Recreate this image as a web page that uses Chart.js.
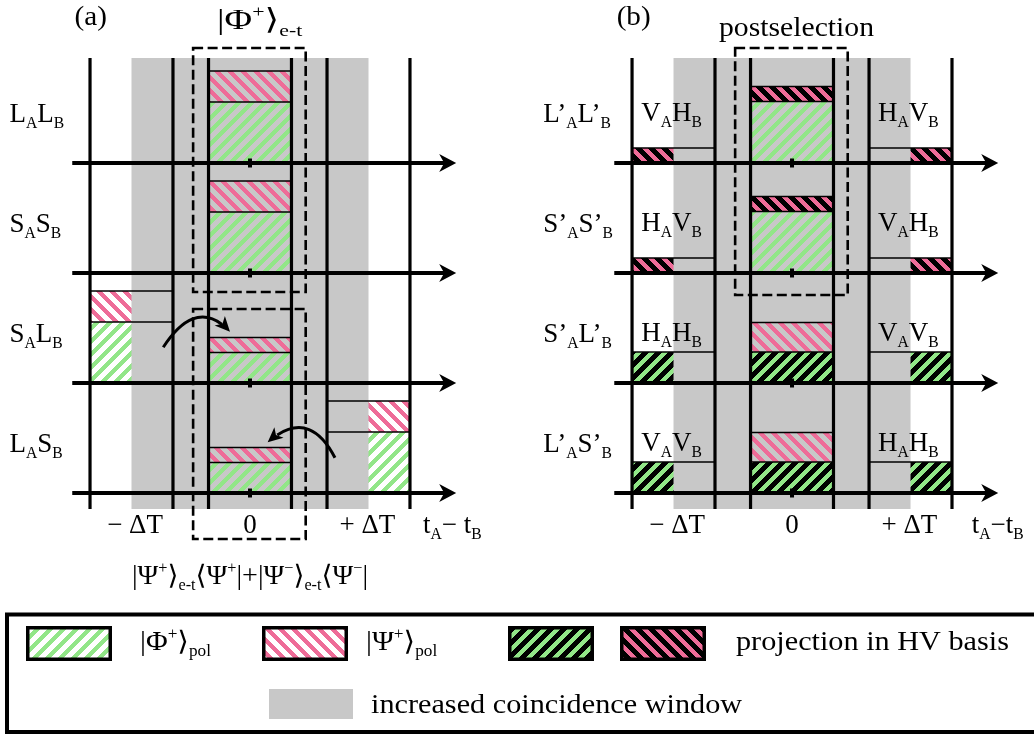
<!DOCTYPE html>
<html>
<head>
<meta charset="utf-8">
<script src="https://cdn.jsdelivr.net/npm/chart.js@4.4.1/dist/chart.umd.min.js"></script>
<style>
  body { margin: 0; background: #fff; overflow: hidden; }
  #box { position: relative; width: 1034px; height: 734px; }
</style>
</head>
<body>
<div id="box"><canvas id="figure"></canvas></div>
<script>
// time bins along t_A - t_B, in units of ΔT
const timeBins = [-1, 0, 1];
const binLabels = ['− ΔT', '0', '+ ΔT'];
const binLabelPos = [-0.97, 0, 0.99];

const rowLabelsA = ['L_{A}L_{B}', 'S_{A}S_{B}', 'S_{A}L_{B}', 'L_{A}S_{B}'];
const rowLabelsB = ['L’_{A}L’_{B}', 'S’_{A}S’_{B}', 'S’_{A}L’_{B}', 'L’_{A}S’_{B}'];
const hvLeftB = ['V_{A}H_{B}', 'H_{A}V_{B}', 'H_{A}H_{B}', 'V_{A}V_{B}'];
const hvRightB = ['H_{A}V_{B}', 'V_{A}H_{B}', 'V_{A}V_{B}', 'H_{A}H_{B}'];

// coincidence counts, rows top to bottom, columns = timeBins
const phiA = [[0, 6.1, 0], [0, 6.1, 0], [6.1, 3.05, 0], [0, 3.05, 6.1]];
const psiA = [[0, 3.1, 0], [0, 3.1, 0], [3.1, 1.5, 0], [0, 1.5, 3.1]];
const phiB = [[0, 6.15, 0], [0, 6.15, 0], [0, 0, 0], [0, 0, 0]];
const psiB = [[0, 0, 0], [0, 0, 0], [0, 2.95, 0], [0, 2.95, 0]];
const phiHVB = [[0, 0, 0], [0, 0, 0], [3.1, 3.1, 3.1], [3.1, 3.1, 3.1]];
const psiHVB = [[1.5, 1.5, 1.5], [1.5, 1.5, 1.5], [0, 0, 0], [0, 0, 0]];

// annotation boxes [x0, x1, y0, y1] and bent arrows [from, via, to]
const boxesA = [[-0.48, 0.47, 20.1, 44.5], [-0.48, 0.47, -4.6, 18.4]];
const boxesB = [[-0.48, 0.47, 19.8, 44.5]];
const arrowsA = [
  [[-0.732, 14.57], [-0.45, 17.53], [-0.169, 16.13]],
  [[0.717, 3.53], [0.464, 6.47], [0.149, 5.07]]
];

const FONT = "'Liberation Serif', 'Times New Roman', 'DejaVu Serif', serif";
const GREEN = '#92e688';
const PINK = '#ee6c98';
const GRAY = '#c8c8c8';
const ROW_STEP = 11;
const BIN_HALF = 0.35;
const WINDOW = [-1, 1];
const FRAME = [-1.6, 43.5];

const panels = [
  {
    offset: 0, tag: '(a)', rowLabels: rowLabelsA, rowLabelX: -2.03,
    stack: [{ kind: 'phi', data: phiA }, { kind: 'psi', data: psiA }],
    title: '|Φ^{+}⟩_{e-t}', titleAt: [-0.278, 46.4], titleAlign: 'left', titleSize: 29, titleSx: 1.3,
    axisLabel: 't_{A}− t_{B}', axisLabelX: 1.46,
    boxes: boxesA, arrows: arrowsA,
    footer: '|Ψ^{+}⟩_{e-t}⟨Ψ^{+}|+|Ψ^{−}⟩_{e-t}⟨Ψ^{−}|'
  },
  {
    offset: 4.574, tag: '(b)', rowLabels: rowLabelsB, rowLabelX: -2.1,
    stack: [{ kind: 'phiHV', data: phiHVB }, { kind: 'phi', data: phiB },
            { kind: 'psiHV', data: psiHVB }, { kind: 'psi', data: psiB }],
    title: 'postselection', titleAt: [0.038, 45.7], titleAlign: 'center', titleSize: 27, titleSx: 1.1,
    axisLabel: 't_{A}−t_{B}', axisLabelX: 1.516,
    hvLeft: hvLeftB, hvRight: hvRightB,
    boxes: boxesB, arrows: []
  }
];

// pixel-exact diagonal hatch tile
function hatch(ctx, color, bg, dir) {
  const P = 13, W = 6;
  const c = document.createElement('canvas');
  c.width = P; c.height = P;
  const g = c.getContext('2d');
  if (bg) { g.fillStyle = bg; g.fillRect(0, 0, P, P); }
  g.fillStyle = color;
  for (let x = 0; x < P; x++) {
    for (let y = 0; y < P; y++) {
      const k = dir === '/' ? (x + y) % P : ((x - y) % P + P) % P;
      if (k < W) g.fillRect(x, y, 1, 1);
    }
  }
  return ctx.createPattern(c, 'repeat');
}

function richText(ctx, str, x, y, size, align, sx) {
  const parts = [];
  const re = /([_^])\{([^}]*)\}/g;
  let last = 0, m;
  while ((m = re.exec(str))) {
    if (m.index > last) parts.push({ t: str.slice(last, m.index), k: 0 });
    parts.push({ t: m[2], k: m[1] === '_' ? 1 : -1 });
    last = re.lastIndex;
  }
  if (last < str.length) parts.push({ t: str.slice(last), k: 0 });
  let w = 0;
  parts.forEach(p => {
    p.size = p.k ? size * 0.58 : size;
    ctx.font = p.size + 'px ' + FONT;
    p.w = ctx.measureText(p.t).width;
    w += p.w;
  });
  ctx.save();
  ctx.translate(x, y);
  ctx.scale(sx || 1, 1);
  ctx.fillStyle = '#000';
  ctx.textBaseline = 'alphabetic';
  let cx = align === 'center' ? -w / 2 : 0;
  parts.forEach(p => {
    ctx.font = p.size + 'px ' + FONT;
    const dy = p.k === 1 ? size * 0.24 : p.k === -1 ? -size * 0.4 : 0;
    ctx.fillText(p.t, cx, dy);
    cx += p.w;
  });
  ctx.restore();
}

function drawPanel(ctx, xs, ys, p, fills) {
  const X = t => xs.getPixelForValue(t + p.offset);
  const Y = v => ys.getPixelForValue(v);
  const nRows = p.rowLabels.length;
  const base = r => (nRows - 1 - r) * ROW_STEP;

  const segs = [];
  for (let r = 0; r < nRows; r++) {
    timeBins.forEach((c, b) => {
      let acc = 0;
      p.stack.forEach(s => {
        const v = s.data[r][b];
        if (v > 0) { segs.push({ r, c, kind: s.kind, lo: acc, hi: acc + v }); acc += v; }
      });
    });
  }
  const inWindow = s => s.c > WINDOW[0] && s.c < WINDOW[1];
  const fillSeg = s => {
    const x0 = X(s.c - BIN_HALF), x1 = X(s.c + BIN_HALF);
    const y0 = Y(base(s.r) + s.hi), y1 = Y(base(s.r) + s.lo);
    ctx.fillStyle = fills[s.kind];
    ctx.fillRect(x0, y0, x1 - x0, y1 - y0);
  };

  segs.filter(s => !inWindow(s)).forEach(fillSeg);
  ctx.fillStyle = GRAY;
  ctx.fillRect(X(WINDOW[0]), Y(FRAME[1]), X(WINDOW[1]) - X(WINDOW[0]), Y(FRAME[0]) - Y(FRAME[1]));
  segs.filter(inWindow).forEach(fillSeg);

  ctx.strokeStyle = '#000';
  ctx.lineWidth = 1.6;
  segs.forEach(s => {
    const y = Y(base(s.r) + s.hi);
    ctx.beginPath();
    ctx.moveTo(X(s.c - BIN_HALF), y);
    ctx.lineTo(X(s.c + BIN_HALF), y);
    ctx.stroke();
  });

  // bin edges
  ctx.lineWidth = 3.2;
  timeBins.forEach(c => {
    [c - BIN_HALF, c + BIN_HALF].forEach(e => {
      ctx.beginPath();
      ctx.moveTo(X(e), Y(FRAME[1]));
      ctx.lineTo(X(e), Y(FRAME[0]));
      ctx.stroke();
    });
  });

  // time axes
  for (let r = 0; r < nRows; r++) {
    const y = Y(base(r));
    const xe = X(1.74);
    ctx.lineWidth = 4;
    ctx.beginPath();
    ctx.moveTo(X(-1.5), y);
    ctx.lineTo(xe - 8, y);
    ctx.stroke();
    ctx.fillStyle = '#000';
    ctx.beginPath();
    ctx.moveTo(xe, y);
    ctx.lineTo(xe - 17, y - 9);
    ctx.lineTo(xe - 12, y);
    ctx.lineTo(xe - 17, y + 9);
    ctx.closePath();
    ctx.fill();
    ctx.fillRect(X(0) - 2, y - 4.5, 4, 9);
  }

  // dashed boxes
  ctx.save();
  ctx.setLineDash([10, 4.5]);
  ctx.lineWidth = 2.6;
  p.boxes.forEach(bx => {
    ctx.strokeRect(X(bx[0]), Y(bx[3]), X(bx[1]) - X(bx[0]), Y(bx[2]) - Y(bx[3]));
  });
  ctx.restore();

  // bent arrows
  p.arrows.forEach(a => {
    const p0 = [X(a[0][0]), Y(a[0][1])], pm = [X(a[1][0]), Y(a[1][1])], p2 = [X(a[2][0]), Y(a[2][1])];
    const c = [2 * pm[0] - (p0[0] + p2[0]) / 2, 2 * pm[1] - (p0[1] + p2[1]) / 2];
    const t = 0.88;
    const c1 = [p0[0] + t * (c[0] - p0[0]), p0[1] + t * (c[1] - p0[1])];
    const e = [(1 - t) * (1 - t) * p0[0] + 2 * t * (1 - t) * c[0] + t * t * p2[0],
               (1 - t) * (1 - t) * p0[1] + 2 * t * (1 - t) * c[1] + t * t * p2[1]];
    ctx.lineWidth = 3;
    ctx.beginPath();
    ctx.moveTo(p0[0], p0[1]);
    ctx.quadraticCurveTo(c1[0], c1[1], e[0], e[1]);
    ctx.stroke();
    const ang = Math.atan2(p2[1] - c[1], p2[0] - c[0]);
    ctx.save();
    ctx.translate(p2[0], p2[1]);
    ctx.rotate(ang);
    ctx.beginPath();
    ctx.moveTo(0, 0);
    ctx.lineTo(-15, -7);
    ctx.lineTo(-11, 0);
    ctx.lineTo(-15, 7);
    ctx.closePath();
    ctx.fill();
    ctx.restore();
  });

  // texts
  richText(ctx, p.tag, X(-1.48), Y(46.8), 27, 'left', 1.08);
  richText(ctx, p.title, X(p.titleAt[0]), Y(p.titleAt[1]), p.titleSize, p.titleAlign, p.titleSx);
  p.rowLabels.forEach((s, r) => richText(ctx, s, X(p.rowLabelX), Y(base(r) + 4.1), 27, 'left', 1));
  if (p.hvLeft) {
    p.hvLeft.forEach((s, r) => richText(ctx, s, X(-1.272), Y(base(r) + 4.2), 27, 'left', 1));
    p.hvRight.forEach((s, r) => richText(ctx, s, X(0.726), Y(base(r) + 4.2), 27, 'left', 1));
  }
  binLabels.forEach((s, i) => richText(ctx, s, X(binLabelPos[i]), Y(-4.0), 27, 'center', 1));
  richText(ctx, p.axisLabel, X(p.axisLabelX), Y(-4.0), 27, 'left', 1);
  if (p.footer) richText(ctx, p.footer, X(0), Y(-9.1), 27, 'center', 1.04);
}

function drawLegend(ctx, fills) {
  ctx.save();
  ctx.strokeStyle = '#000';
  ctx.lineWidth = 4;
  ctx.strokeRect(7, 614.5, 1040, 117.5);
  const swatches = [
    { kind: 'phi', x: 26, label: '|Φ^{+}⟩_{pol}', lx: 140 },
    { kind: 'psi', x: 262, label: '|Ψ^{+}⟩_{pol}', lx: 366 },
    { kind: 'phiHV', x: 508 },
    { kind: 'psiHV', x: 620, label: 'projection in HV basis', lx: 736, sx: 1.12 }
  ];
  swatches.forEach(s => {
    ctx.fillStyle = fills[s.kind];
    ctx.fillRect(s.x, 626, 86, 35);
    ctx.lineWidth = 3.5;
    ctx.strokeRect(s.x + 1.75, 627.75, 82.5, 31.5);
    if (s.label) richText(ctx, s.label, s.lx, 650, 27, 'left', s.sx || 1.1);
  });
  ctx.fillStyle = GRAY;
  ctx.fillRect(269, 689, 84, 30);
  richText(ctx, 'increased coincidence window', 371, 713, 27, 'left', 1.12);
  ctx.restore();
}

const figurePlugin = {
  id: 'figure',
  afterDraw(chart) {
    const ctx = chart.ctx;
    const fills = {
      phi: hatch(ctx, GREEN, null, '/'),
      psi: hatch(ctx, PINK, null, '\\'),
      phiHV: hatch(ctx, GREEN, '#000', '/'),
      psiHV: hatch(ctx, PINK, '#000', '\\')
    };
    ctx.save();
    panels.forEach(p => drawPanel(ctx, chart.scales.x, chart.scales.y, p, fills));
    drawLegend(ctx, fills);
    ctx.restore();
  }
};

new Chart(document.getElementById('figure'), {
  type: 'scatter',
  data: { datasets: [] },
  options: {
    responsive: true,
    maintainAspectRatio: false,
    animation: false,
    layout: { padding: 0 },
    plugins: {
      legend: { display: false },
      tooltip: { enabled: false }
    },
    scales: {
      x: { type: 'linear', min: -2.1097, max: 6.616, display: false },
      y: { type: 'linear', min: -24.1, max: 49.3, display: false }
    }
  },
  plugins: [figurePlugin]
});
</script>
</body>
</html>
